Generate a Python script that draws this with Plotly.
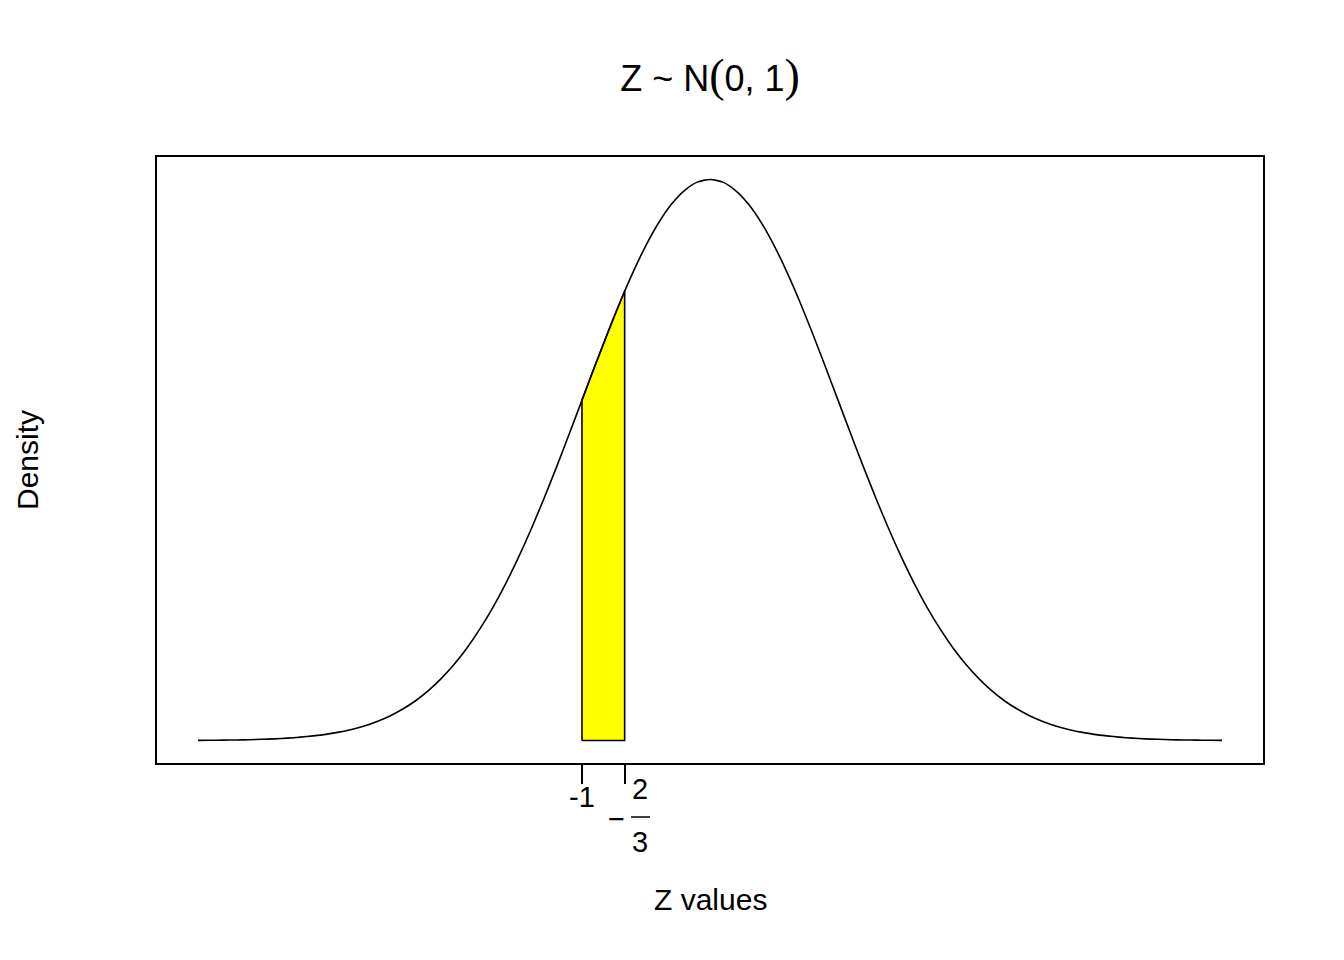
import plotly.graph_objects as go

# Standard normal density (step 0.1)
z_values = [-4.0, -3.9, -3.8, -3.7, -3.6, -3.5, -3.4, -3.3, -3.2, -3.1,
            -3.0, -2.9, -2.8, -2.7, -2.6, -2.5, -2.4, -2.3, -2.2, -2.1,
            -2.0, -1.9, -1.8, -1.7, -1.6, -1.5, -1.4, -1.3, -1.2, -1.1,
            -1.0, -0.9, -0.8, -0.7, -0.6, -0.5, -0.4, -0.3, -0.2, -0.1,
            0.0, 0.1, 0.2, 0.3, 0.4, 0.5, 0.6, 0.7, 0.8, 0.9,
            1.0, 1.1, 1.2, 1.3, 1.4, 1.5, 1.6, 1.7, 1.8, 1.9,
            2.0, 2.1, 2.2, 2.3, 2.4, 2.5, 2.6, 2.7, 2.8, 2.9,
            3.0, 3.1, 3.2, 3.3, 3.4, 3.5, 3.6, 3.7, 3.8, 3.9, 4.0]
density = [0.0001, 0.0002, 0.0003, 0.0004, 0.0006, 0.0009, 0.0012, 0.0017, 0.0024, 0.0033,
           0.0044, 0.0060, 0.0079, 0.0104, 0.0136, 0.0175, 0.0224, 0.0283, 0.0355, 0.0440,
           0.0540, 0.0656, 0.0790, 0.0940, 0.1109, 0.1295, 0.1497, 0.1714, 0.1942, 0.2179,
           0.2420, 0.2661, 0.2897, 0.3123, 0.3332, 0.3521, 0.3683, 0.3814, 0.3910, 0.3970,
           0.3989, 0.3970, 0.3910, 0.3814, 0.3683, 0.3521, 0.3332, 0.3123, 0.2897, 0.2661,
           0.2420, 0.2179, 0.1942, 0.1714, 0.1497, 0.1295, 0.1109, 0.0940, 0.0790, 0.0656,
           0.0540, 0.0440, 0.0355, 0.0283, 0.0224, 0.0175, 0.0136, 0.0104, 0.0079, 0.0060,
           0.0044, 0.0033, 0.0024, 0.0017, 0.0012, 0.0009, 0.0006, 0.0004, 0.0003, 0.0002, 0.0001]

# Shaded region between -1 and -2/3
shade_x = [-1.0, -0.9167, -0.8333, -0.75, -0.6667]
shade_y = [0.2420, 0.2622, 0.2819, 0.3011, 0.3194]

tick_vals = [-1.0, -2 / 3]
tick_text = ["-1", ""]

W, H = 1344, 960
L, R, T, B = 157, 1263, 157, 763

def px(x):
    return (x - L) / (R - L)

def py(y):
    return (B - y) / (B - T)

poly_x = [shade_x[0]] + shade_x + [shade_x[-1], shade_x[0]]
poly_y = [0] + shade_y + [0, 0]

fig = go.Figure()
fig.add_trace(go.Scatter(x=poly_x, y=poly_y, mode="lines", fill="toself",
                         fillcolor="#ffff00", line=dict(color="black", width=1.6),
                         hoverinfo="skip", showlegend=False))
fig.add_trace(go.Scatter(x=z_values, y=density, mode="lines",
                         line=dict(color="black", width=1.6, shape="spline", smoothing=0.6),
                         showlegend=False))

font = "Liberation Sans, Arial, sans-serif"
serif = "Liberation Serif, Times New Roman, serif"

fig.update_layout(
    width=W, height=H,
    margin=dict(l=L, r=W - R, t=T, b=H - B),
    paper_bgcolor="white", plot_bgcolor="white",
    font=dict(family=font, size=30, color="black"),
    showlegend=False,
    title=dict(
        text=("Z ~ N<span style='font-family:" + serif + ";font-size:46px'>(</span>0, 1"
              "<span style='font-family:" + serif + ";font-size:46px'>)</span>"),
        x=px(710), xanchor="center", xref="paper",
        y=1 - 78 / H, yanchor="middle", yref="container",
        font=dict(size=36, family=font, color="black"),
    ),
    xaxis=dict(range=[-4.32, 4.32], tickmode="array", tickvals=tick_vals, ticktext=tick_text,
               ticks="outside", ticklen=19, tickwidth=1.5, tickcolor="black",
               ticklabelstandoff=-12,
               showline=True, linecolor="black", linewidth=1.5, mirror=True,
               showgrid=False, zeroline=False, tickfont=dict(size=29)),
    yaxis=dict(range=[-0.01596, 0.41486], showticklabels=False, ticks="",
               showline=True, linecolor="black", linewidth=1.5, mirror=True,
               showgrid=False, zeroline=False),
)

annotations = [
    dict(text="2", x=px(640), xref="paper", y=py(789), yref="paper", showarrow=False,
         xanchor="center", yanchor="middle", font=dict(size=29)),
    dict(text="3", x=px(640), xref="paper", y=py(842), yref="paper", showarrow=False,
         xanchor="center", yanchor="middle", font=dict(size=29)),
    dict(text="\u2212", x=px(616), xref="paper", y=py(819), yref="paper", showarrow=False,
         xanchor="center", yanchor="middle", font=dict(size=29)),
    dict(text="Z values", x=px(710), xref="paper", y=py(900), yref="paper", showarrow=False,
         xanchor="center", yanchor="middle", font=dict(size=30)),
    dict(text="Density", x=px(27), xref="paper", y=py(460), yref="paper", showarrow=False,
         textangle=-90, xanchor="center", yanchor="middle", font=dict(size=30)),
]
fig.update_layout(annotations=annotations)
fig.add_shape(type="line", xref="paper", yref="paper",
              x0=px(631), x1=px(650), y0=py(817), y1=py(817),
              line=dict(color="black", width=1.5))

fig.write_html("out.html", config={"displayModeBar": False},
               post_script="document.body.style.margin='0';document.body.style.padding='0';")
